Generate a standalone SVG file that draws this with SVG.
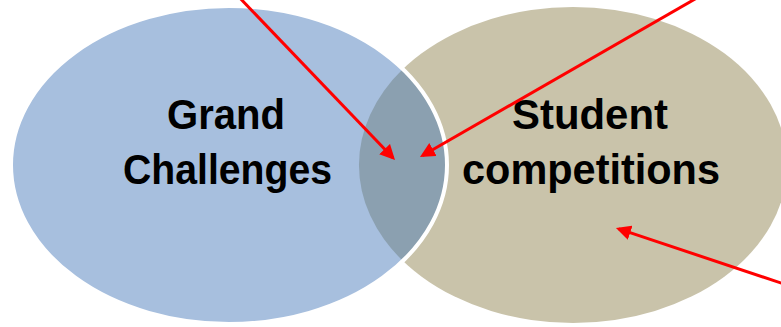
<svg xmlns="http://www.w3.org/2000/svg" width="781" height="327" viewBox="0 0 781 327">
<style>
.lbl{font-family:"Liberation Sans",Arial,sans-serif;font-weight:bold;font-size:42px;fill:#000;text-anchor:middle}
.arrow{stroke:#FF0000;stroke-width:3;fill:none;marker-end:url(#ah)}
</style>
<defs>
<marker id="ah" viewBox="0 0 10 10" refX="8" refY="5" markerWidth="5" markerHeight="5" orient="auto" markerUnits="strokeWidth">
<path d="M0,0 L10,5 L0,10 z" fill="#FF0000"/>
</marker>
</defs>
<rect width="781" height="327" fill="#FFFFFF"/>
<g id="student-competitions">
<ellipse cx="573" cy="165" rx="214" ry="158" fill="#C9C3AA"/>
</g>
<g id="grand-challenges">
<ellipse cx="229" cy="165" rx="218" ry="159" fill="#A7BFDE"/>
</g>
<g id="overlap">
<path d="M402.9,69.1 A218,159 0 0 1 402.9,260.9 A214,158 0 0 1 402.9,69.1 Z" fill="#8BA0B0"/>
<ellipse cx="229" cy="165" rx="218" ry="159" fill="none" stroke="#FFFFFF" stroke-width="4"/>
</g>
<g id="labels">
<text class="lbl" x="226" y="129" textLength="118" lengthAdjust="spacingAndGlyphs">Grand</text>
<text class="lbl" x="227.5" y="184" textLength="209" lengthAdjust="spacingAndGlyphs">Challenges</text>
<text class="lbl" x="590" y="129" textLength="156" lengthAdjust="spacingAndGlyphs">Student</text>
<text class="lbl" x="591" y="184" textLength="258" lengthAdjust="spacingAndGlyphs">competitions</text>
</g>
<g id="connectors">
<line class="arrow" x1="237" y1="-5" x2="392.9" y2="157.8"/>
<line class="arrow" x1="702" y1="-5" x2="422.6" y2="155.5"/>
<line class="arrow" x1="790" y1="286" x2="618.8" y2="228.9"/>
</g>
</svg>
